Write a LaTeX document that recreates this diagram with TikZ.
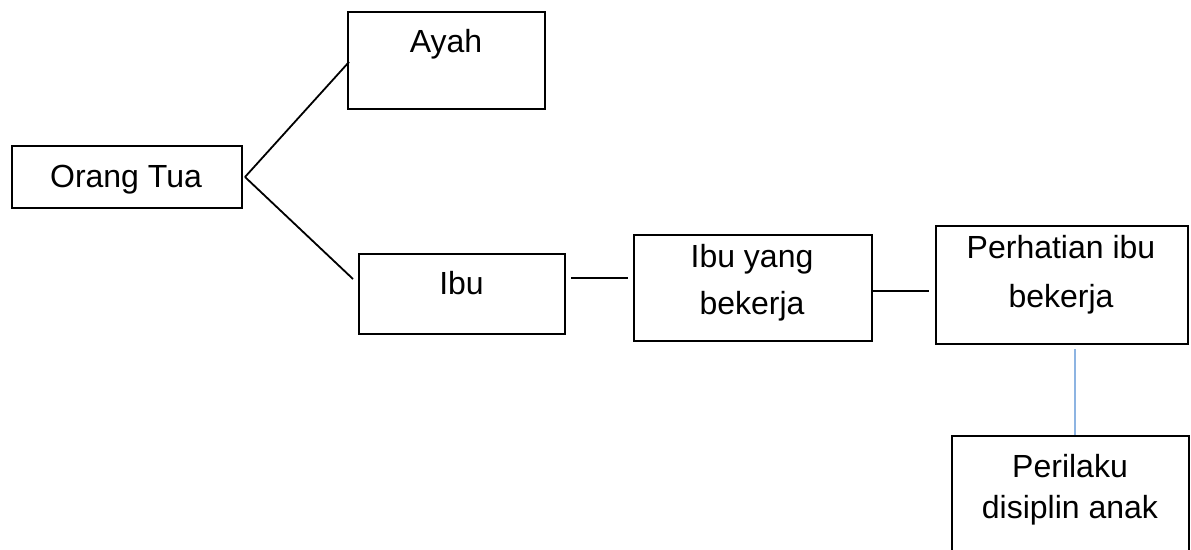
\documentclass[tikz,border=0pt]{standalone}
\usepackage{fontspec}
\setmainfont{Liberation Sans}
\usetikzlibrary{calc}
\definecolor{lineblue}{RGB}{141,180,226}
\tikzset{
  box/.style={draw=black, line width=2pt, rectangle, inner sep=0pt, anchor=north west},
  txt/.style={anchor=base, inner sep=0pt, font=\fontsize{32}{47}\selectfont},
  link/.style={draw=black, line width=1.8pt},
  bluelink/.style={draw=lineblue, line width=1.4pt}
}
\begin{document}
\begin{tikzpicture}[x=1pt, y=-1pt]
\useasboundingbox (0,0) rectangle (1191,549);
\clip (0,0) rectangle (1191,549);
% boxes
\node[box, minimum width=230pt, minimum height=62pt] (orang) at (11,145) {};
\node[box, minimum width=197pt, minimum height=97pt] (ayah) at (347,11) {};
\node[box, minimum width=206pt, minimum height=80pt] (ibu) at (358,253) {};
\node[box, minimum width=238pt, minimum height=106pt] (ibuk) at (633,234) {};
\node[box, minimum width=252pt, minimum height=118pt] (perh) at (935,225) {};
\node[box, minimum width=237pt, minimum height=140pt] (peril) at (951,435) {};
% texts
\node[txt] (t1) at (126,187) {Orang Tua};
\node[txt] (t2) at (446,52) {Ayah};
\node[txt] (t3) at (461.5,294) {Ibu};
\node[txt] (t4a) at (752,267) {Ibu yang};
\node[txt] (t4b) at (752,314) {bekerja};
\node[txt] (t5a) at (1061,258) {Perhatian ibu};
\node[txt] (t5b) at (1061,307) {bekerja};
\node[txt] (t6a) at (1070,477) {Perilaku};
\node[txt] (t6b) at (1070,518) {disiplin anak};
% connectors
\draw[link] ($(orang.east)+(2,0)$) -- ($(ayah.west)+(2,1.5)$);
\draw[link] ($(orang.east)+(2,0)$) -- ($(ibu.north west)+(-5,26)$);
\draw[link] ($(ibu.north east)+(5,25)$) -- ($(ibuk.north west)+(-5,44)$);
\draw[link] ($(ibuk.north east)+(0,57)$) -- ($(perh.north west)+(-6,66)$);
\coordinate (bt) at ($(perh.south)+(13,4)$);
\draw[bluelink] (bt) -- (bt |- peril.north);
\end{tikzpicture}
\end{document}
